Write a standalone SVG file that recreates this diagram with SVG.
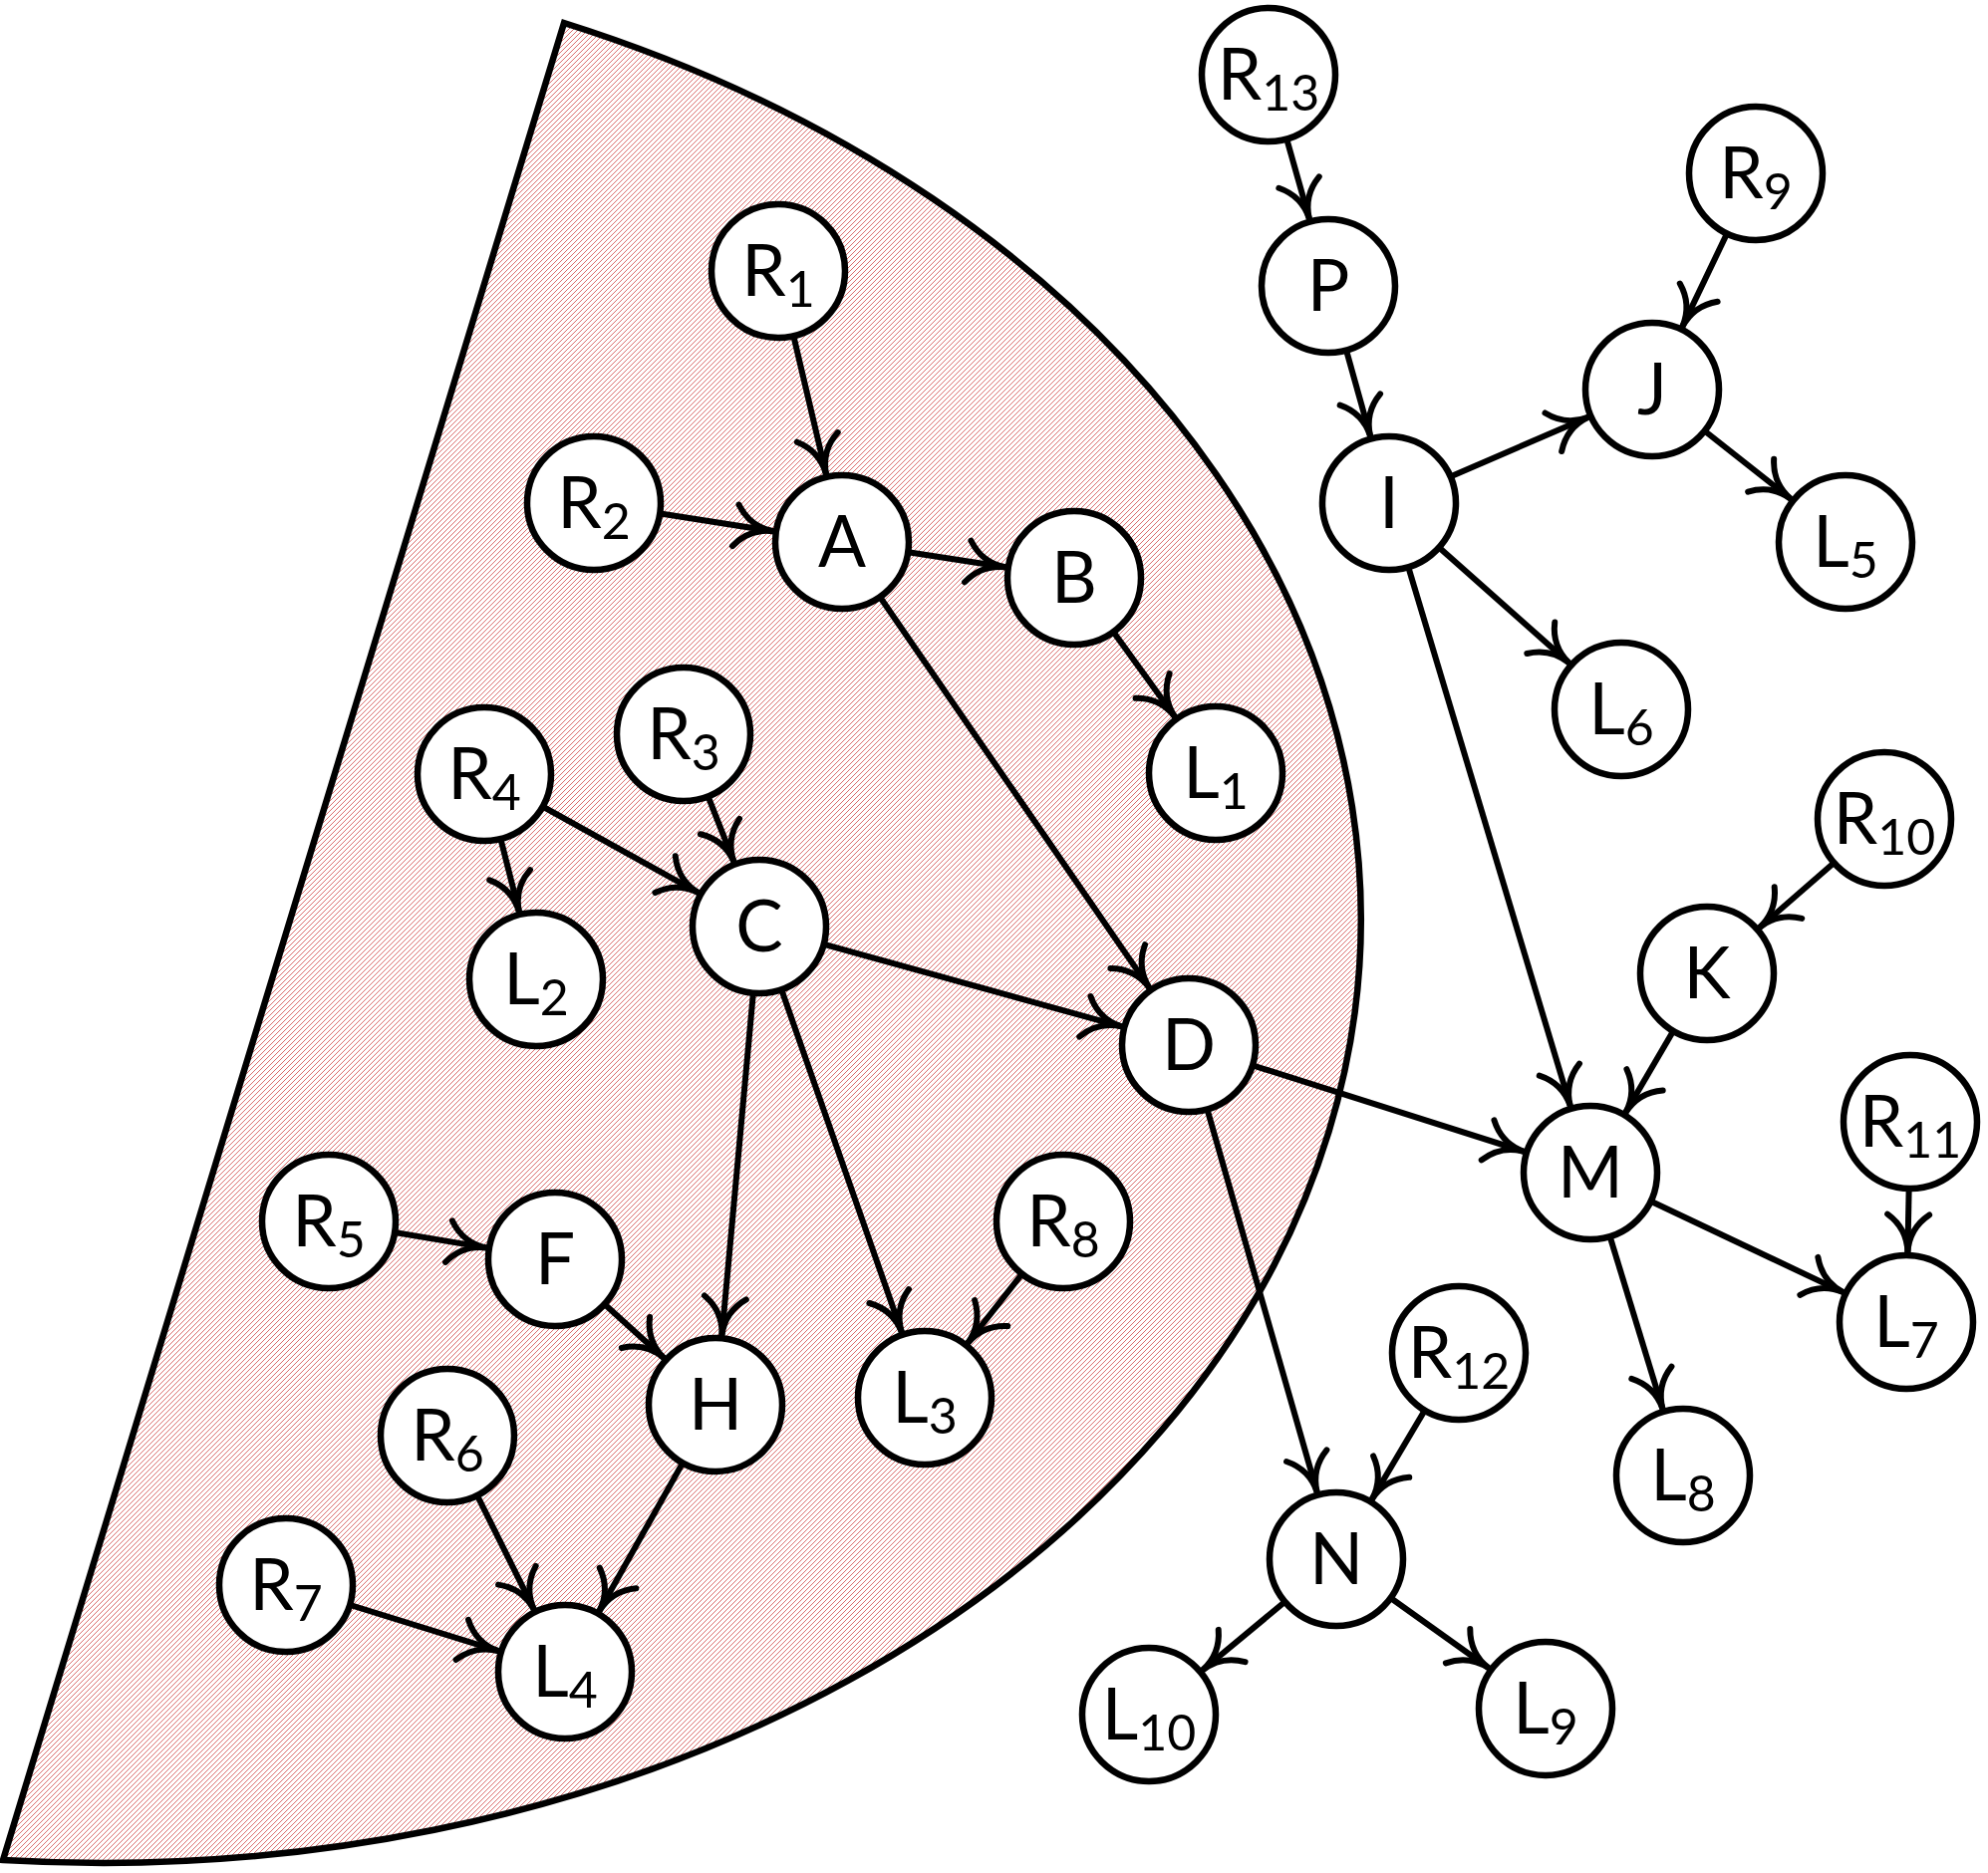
<svg xmlns="http://www.w3.org/2000/svg" width="1995" height="1880" viewBox="0 0 1995 1880">
<style>
.node circle{fill:#fff;stroke:#000;stroke-width:6.5}
.node text{font-family:Lato,"Liberation Sans",sans-serif;font-size:71px;fill:#000;text-anchor:middle}
.node tspan{font-size:50px}
.edge{stroke:#000;stroke-width:6;fill:none;marker-end:url(#arr)}
</style>
<defs>
<pattern id="hatch" width="5" height="5" patternUnits="userSpaceOnUse">
<rect width="5" height="5" fill="#fff"/>
<path d="M-1,1 L1,-1 M0,5 L5,0 M4,6 L6,4" stroke="#d04848" stroke-width="0.8"/>
</pattern>
<marker id="arr" markerUnits="userSpaceOnUse" orient="auto" overflow="visible" markerWidth="1" markerHeight="1" refX="0" refY="0">
<path d="M-38,-21 Q-24,-1 0,0 Q-24,1 -38,21" fill="none" stroke="#000" stroke-width="6" stroke-linecap="round" stroke-linejoin="round"/>
</marker>
</defs>
<rect width="1995" height="1880" fill="#fff"/>
<path id="region" d="M566,23 A1281,961 1.37 0 1 3,1867 Z" fill="url(#hatch)" stroke="#000" stroke-width="6.5" stroke-linejoin="miter"/>
<g id="connectors">
<line class="edge" x1="781" y1="272" x2="829.0" y2="475.9"/>
<line class="edge" x1="596" y1="505" x2="775.8" y2="533.2"/>
<line class="edge" x1="845" y1="544" x2="1008.8" y2="569.3"/>
<line class="edge" x1="845" y1="544" x2="1153.3" y2="991.4"/>
<line class="edge" x1="1078" y1="580" x2="1178.9" y2="719.3"/>
<line class="edge" x1="686" y1="737" x2="736.4" y2="864.9"/>
<line class="edge" x1="486" y1="777" x2="700.8" y2="896.1"/>
<line class="edge" x1="486" y1="777" x2="520.9" y2="915.1"/>
<line class="edge" x1="762" y1="930" x2="1125.5" y2="1030.4"/>
<line class="edge" x1="762" y1="930" x2="724.4" y2="1340.3"/>
<line class="edge" x1="762" y1="930" x2="904.8" y2="1336.9"/>
<line class="edge" x1="1193" y1="1049" x2="1529.3" y2="1155.8"/>
<line class="edge" x1="1193" y1="1049" x2="1321.7" y2="1497.7"/>
<line class="edge" x1="330" y1="1226" x2="488.0" y2="1252.4"/>
<line class="edge" x1="557" y1="1264" x2="666.1" y2="1363.0"/>
<line class="edge" x1="1067" y1="1226" x2="971.2" y2="1348.0"/>
<line class="edge" x1="718" y1="1410" x2="601.4" y2="1617.0"/>
<line class="edge" x1="449" y1="1441" x2="535.8" y2="1615.3"/>
<line class="edge" x1="287" y1="1591" x2="500.1" y2="1657.2"/>
<line class="edge" x1="1273" y1="75" x2="1313.9" y2="219.6"/>
<line class="edge" x1="1333" y1="287" x2="1375.1" y2="437.6"/>
<line class="edge" x1="1394" y1="505" x2="1593.7" y2="418.7"/>
<line class="edge" x1="1762" y1="174" x2="1688.3" y2="327.9"/>
<line class="edge" x1="1658" y1="391" x2="1797.0" y2="500.7"/>
<line class="edge" x1="1394" y1="505" x2="1574.7" y2="665.5"/>
<line class="edge" x1="1394" y1="505" x2="1575.8" y2="1110.0"/>
<line class="edge" x1="1891" y1="822" x2="1765.8" y2="931.0"/>
<line class="edge" x1="1713" y1="977" x2="1631.4" y2="1116.6"/>
<line class="edge" x1="1596" y1="1177" x2="1849.7" y2="1297.1"/>
<line class="edge" x1="1917" y1="1126" x2="1914.4" y2="1257.0"/>
<line class="edge" x1="1596" y1="1177" x2="1668.5" y2="1414.1"/>
<line class="edge" x1="1464" y1="1358" x2="1376.8" y2="1504.8"/>
<line class="edge" x1="1341" y1="1565" x2="1206.9" y2="1676.3"/>
<line class="edge" x1="1341" y1="1565" x2="1494.0" y2="1674.3"/>
</g>
<g id="node-R1" class="node"><circle cx="781" cy="272" r="67"/><text x="781" y="297">R<tspan dy="11">1</tspan></text></g>
<g id="node-R2" class="node"><circle cx="596" cy="505" r="67"/><text x="596" y="530">R<tspan dy="11">2</tspan></text></g>
<g id="node-A" class="node"><circle cx="845" cy="544" r="67"/><text x="845" y="569">A</text></g>
<g id="node-B" class="node"><circle cx="1078" cy="580" r="67"/><text x="1078" y="605">B</text></g>
<g id="node-L1" class="node"><circle cx="1220" cy="776" r="67"/><text x="1220" y="801">L<tspan dy="11">1</tspan></text></g>
<g id="node-R3" class="node"><circle cx="686" cy="737" r="67"/><text x="686" y="762">R<tspan dy="11">3</tspan></text></g>
<g id="node-R4" class="node"><circle cx="486" cy="777" r="67"/><text x="486" y="802">R<tspan dy="11">4</tspan></text></g>
<g id="node-C" class="node"><circle cx="762" cy="930" r="67"/><text x="762" y="955">C</text></g>
<g id="node-L2" class="node"><circle cx="538" cy="983" r="67"/><text x="538" y="1008">L<tspan dy="11">2</tspan></text></g>
<g id="node-D" class="node"><circle cx="1193" cy="1049" r="67"/><text x="1193" y="1074">D</text></g>
<g id="node-R5" class="node"><circle cx="330" cy="1226" r="67"/><text x="330" y="1251">R<tspan dy="11">5</tspan></text></g>
<g id="node-F" class="node"><circle cx="557" cy="1264" r="67"/><text x="557" y="1289">F</text></g>
<g id="node-R8" class="node"><circle cx="1067" cy="1226" r="67"/><text x="1067" y="1251">R<tspan dy="11">8</tspan></text></g>
<g id="node-H" class="node"><circle cx="718" cy="1410" r="67"/><text x="718" y="1435">H</text></g>
<g id="node-L3" class="node"><circle cx="928" cy="1403" r="67"/><text x="928" y="1428">L<tspan dy="11">3</tspan></text></g>
<g id="node-R6" class="node"><circle cx="449" cy="1441" r="67"/><text x="449" y="1466">R<tspan dy="11">6</tspan></text></g>
<g id="node-R7" class="node"><circle cx="287" cy="1591" r="67"/><text x="287" y="1616">R<tspan dy="11">7</tspan></text></g>
<g id="node-L4" class="node"><circle cx="567" cy="1678" r="67"/><text x="567" y="1703">L<tspan dy="11">4</tspan></text></g>
<g id="node-R13" class="node"><circle cx="1273" cy="75" r="67"/><text x="1273" y="100">R<tspan dy="11">13</tspan></text></g>
<g id="node-P" class="node"><circle cx="1333" cy="287" r="67"/><text x="1333" y="312">P</text></g>
<g id="node-R9" class="node"><circle cx="1762" cy="174" r="67"/><text x="1762" y="199">R<tspan dy="11">9</tspan></text></g>
<g id="node-J" class="node"><circle cx="1658" cy="391" r="67"/><text x="1658" y="416">J</text></g>
<g id="node-I" class="node"><circle cx="1394" cy="505" r="67"/><text x="1394" y="530">I</text></g>
<g id="node-L5" class="node"><circle cx="1852" cy="544" r="67"/><text x="1852" y="569">L<tspan dy="11">5</tspan></text></g>
<g id="node-L6" class="node"><circle cx="1627" cy="712" r="67"/><text x="1627" y="737">L<tspan dy="11">6</tspan></text></g>
<g id="node-R10" class="node"><circle cx="1891" cy="822" r="67"/><text x="1891" y="847">R<tspan dy="11">10</tspan></text></g>
<g id="node-K" class="node"><circle cx="1713" cy="977" r="67"/><text x="1713" y="1002">K</text></g>
<g id="node-M" class="node"><circle cx="1596" cy="1177" r="67"/><text x="1596" y="1202">M</text></g>
<g id="node-R11" class="node"><circle cx="1917" cy="1126" r="67"/><text x="1917" y="1151">R<tspan dy="11">11</tspan></text></g>
<g id="node-L7" class="node"><circle cx="1913" cy="1327" r="67"/><text x="1913" y="1352">L<tspan dy="11">7</tspan></text></g>
<g id="node-L8" class="node"><circle cx="1689" cy="1481" r="67"/><text x="1689" y="1506">L<tspan dy="11">8</tspan></text></g>
<g id="node-R12" class="node"><circle cx="1464" cy="1358" r="67"/><text x="1464" y="1383">R<tspan dy="11">12</tspan></text></g>
<g id="node-N" class="node"><circle cx="1341" cy="1565" r="67"/><text x="1341" y="1590">N</text></g>
<g id="node-L9" class="node"><circle cx="1551" cy="1715" r="67"/><text x="1551" y="1740">L<tspan dy="11">9</tspan></text></g>
<g id="node-L10" class="node"><circle cx="1153" cy="1721" r="67"/><text x="1153" y="1746">L<tspan dy="11">10</tspan></text></g>
</svg>
